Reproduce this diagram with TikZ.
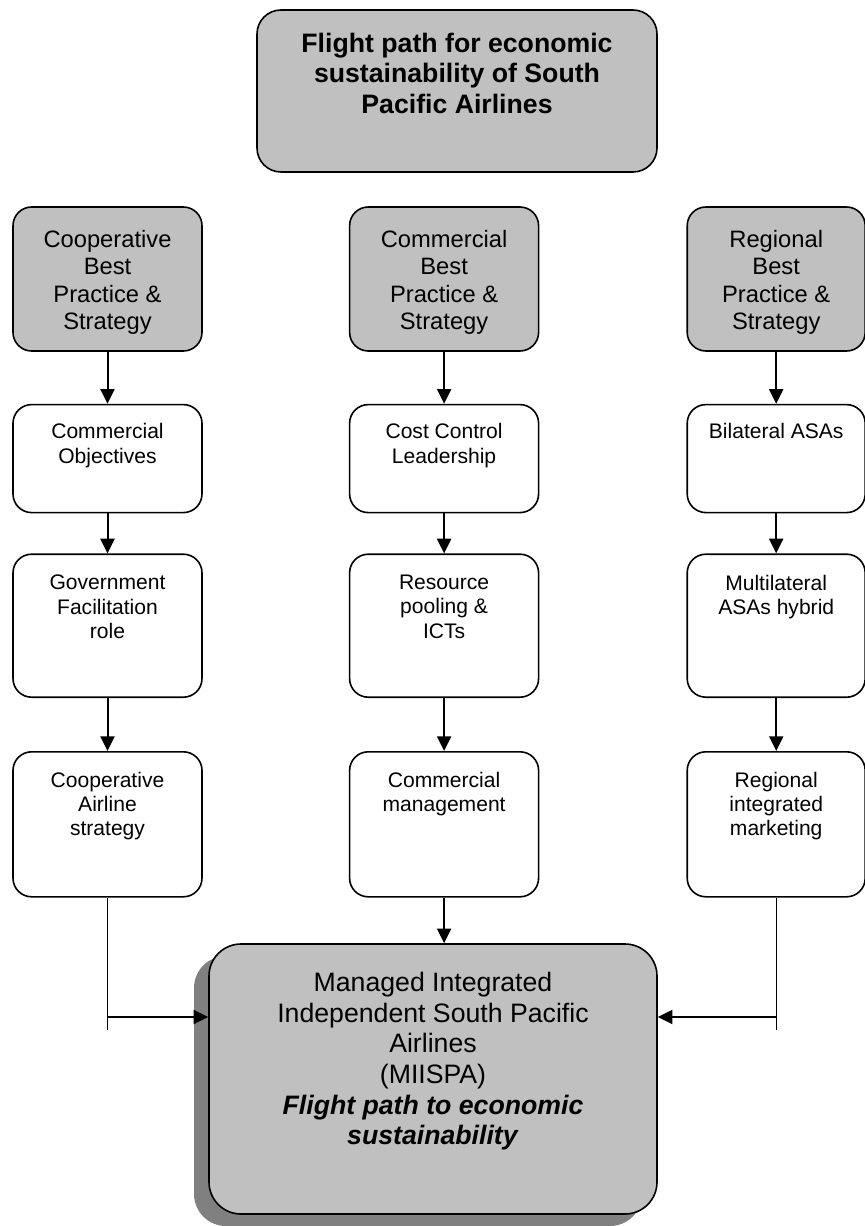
\documentclass[tikz,border=0pt]{standalone}
\usepackage{fontspec}
\setmainfont{Liberation Sans}
\usetikzlibrary{positioning}
\usetikzlibrary{arrows.meta}
\usetikzlibrary{shadows}
\definecolor{boxgray}{RGB}{192,192,192}
\definecolor{shadegray}{RGB}{128,128,128}
\newcommand{\toptext}[3]{\parbox[c][#1][t]{#2}{\centering #3}}
\tikzset{
    titlebox/.style={
        draw, line width=1.2pt,
        fill=boxgray,
        rounded corners=18pt,
        minimum width=300pt, minimum height=121.5pt,
        inner sep=0pt,
        font=\fontsize{20}{23}\selectfont\bfseries},
    headbox/.style={
        draw, line width=1.2pt,
        fill=boxgray,
        rounded corners=14pt,
        minimum width=141.75pt, minimum height=108pt,
        inner sep=0pt,
        font=\fontsize{17.8}{20.6}\selectfont},
    stepbox/.style={
        draw, line width=1.2pt,
        fill=white,
        rounded corners=14pt,
        minimum width=141.75pt, minimum height=#1,
        inner sep=0pt,
        font=\fontsize{15.8}{18.2}\selectfont},
    narrow/.style={minimum width=133.5pt},
    goalbox/.style={
        draw, line width=1.2pt,
        fill=boxgray,
        rounded corners=24pt,
        minimum width=336pt, minimum height=202.5pt,
        inner sep=0pt,
        font=\fontsize{20}{23}\selectfont,
        drop shadow={shadow xshift=-11.25pt, shadow yshift=-9pt,
            fill=shadegray, opacity=1}},
    flow/.style={
        draw, line width=1.5pt,
        -{Triangle[length=11pt,width=10.5pt]}},
    feed/.style={draw, line width=1pt}
}

\begin{document}
\begin{tikzpicture}[x=0.75pt,y=-0.75pt]
    \useasboundingbox (0,0) rectangle (864,1226);

    \node[titlebox] (title) at (457,91)
        {\toptext{87pt}{280pt}{Flight path for economic\\sustainability of South\\Pacific Airlines}};

    % three columns
    \node[headbox] (coophead) at (107.5,279)
        {\toptext{73.5pt}{130pt}{Cooperative\\Best\\Practice \&\\Strategy}};
    \node[headbox,right=109.5pt of coophead] (commhead)
        {\toptext{73.5pt}{130pt}{Commercial\\Best\\Practice \&\\Strategy}};
    \node[headbox,narrow,right=110.25pt of commhead] (reghead)
        {\toptext{73.5pt}{125pt}{Regional\\Best\\Practice \&\\Strategy}};

    \node[stepbox=81pt,below=39pt of coophead] (coopobj)
        {\toptext{52.5pt}{130pt}{Commercial\\Objectives}};
    \node[stepbox=81pt,below=39pt of commhead] (costctrl)
        {\toptext{52.5pt}{130pt}{Cost Control\\Leadership}};
    \node[stepbox=81pt,narrow,below=39pt of reghead] (bilateral)
        {\toptext{52.5pt}{125pt}{Bilateral ASAs}};

    \node[stepbox=107.25pt,below=30pt of coopobj] (govrole)
        {\toptext{75.75pt}{130pt}{Government\\Facilitation\\role}};
    \node[stepbox=107.25pt,below=30pt of costctrl] (pooling)
        {\toptext{75.75pt}{130pt}{Resource\\pooling \&\\ICTs}};
    \node[stepbox=107.25pt,narrow,below=30pt of bilateral] (multilateral)
        {\toptext{75.75pt}{125pt}{Multilateral\\ASAs hybrid}};

    \node[stepbox=108.75pt,below=39.75pt of govrole] (coopair)
        {\toptext{78.75pt}{130pt}{Cooperative\\Airline\\strategy}};
    \node[stepbox=108.75pt,below=39.75pt of pooling] (commmgmt)
        {\toptext{78.75pt}{130pt}{Commercial\\management}};
    \node[stepbox=108.75pt,narrow,below=39.75pt of multilateral] (regmkt)
        {\toptext{78.75pt}{125pt}{Regional\\integrated\\marketing}};

    \node[goalbox] (miispa) at (433,1079)
        {\toptext{160.5pt}{300pt}{Managed Integrated\\Independent South Pacific\\Airlines\\(MIISPA)\\
            \textbf{\textit{Flight path to economic}}\\\textbf{\textit{sustainability}}}};

    % arrows down each column
    \draw[flow] (coophead) -- (coopobj);
    \draw[flow] (coopobj) -- (govrole);
    \draw[flow] (govrole) -- (coopair);
    \draw[flow] (commhead) -- (costctrl);
    \draw[flow] (costctrl) -- (pooling);
    \draw[flow] (pooling) -- (commmgmt);
    \draw[flow] (reghead) -- (bilateral);
    \draw[flow] (bilateral) -- (multilateral);
    \draw[flow] (multilateral) -- (regmkt);

    % into the goal box
    \coordinate (ljoin) at (coopair.south |- 0,1017);
    \coordinate (lfoot) at (coopair.south |- 0,1030);
    \coordinate (rjoin) at (regmkt.south |- 0,1017);
    \coordinate (rfoot) at (regmkt.south |- 0,1030);
    \draw[feed] (coopair.south) -- (lfoot);
    \draw[feed] (regmkt.south) -- (rfoot);
    \draw[flow] (ljoin) -- (ljoin -| miispa.west);
    \draw[flow] (rjoin) -- (rjoin -| miispa.east);
    \draw[flow] (commmgmt.south) -- (commmgmt.south |- miispa.north);
\end{tikzpicture}
\end{document}
